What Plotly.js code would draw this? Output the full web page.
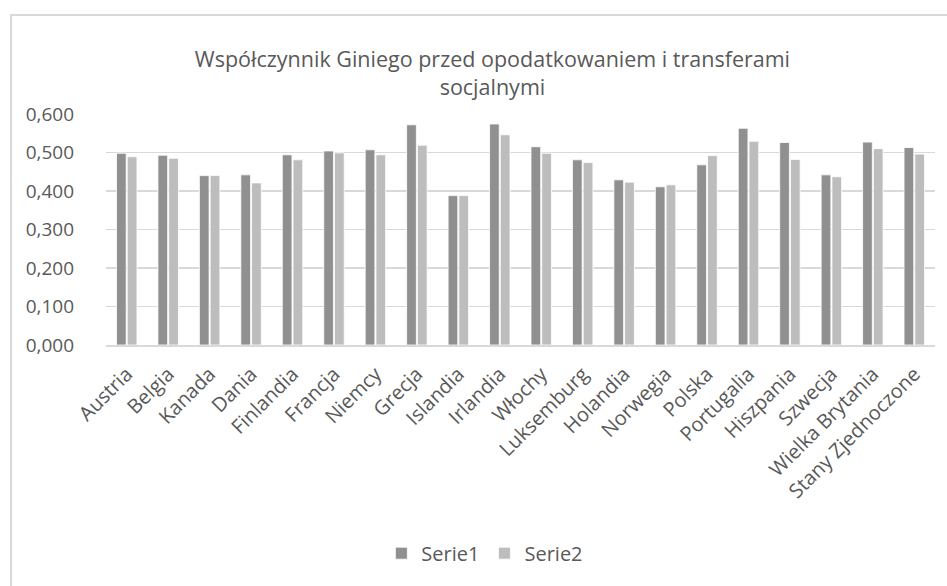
<!DOCTYPE html>
<html>
<head>
<meta charset="utf-8">
<script src="https://cdn.plot.ly/plotly-3.0.1.min.js"></script>
<style>
  html, body { margin: 0; padding: 0; background: #fff; overflow: hidden; }
  #frame { position: absolute; left: 10px; top: 14px; width: 960px; height: 600px;
           border-left: 2px solid #d9d9d9; border-top: 2px solid #d9d9d9; box-sizing: border-box; pointer-events: none; }
  #chart { position: absolute; left: 0; top: 0; width: 947px; height: 586px; }
</style>
</head>
<body>
<div id="chart"></div>
<div id="frame"></div>
<script>
const categories = ["Austria", "Belgia", "Kanada", "Dania", "Finlandia", "Francja", "Niemcy", "Grecja",
  "Islandia", "Irlandia", "Włochy", "Luksemburg", "Holandia", "Norwegia", "Polska", "Portugalia",
  "Hiszpania", "Szwecja", "Wielka Brytania", "Stany Zjednoczone"];
const serie1 = [0.498, 0.493, 0.440, 0.442, 0.494, 0.504, 0.507, 0.572, 0.388, 0.574,
  0.515, 0.481, 0.429, 0.411, 0.468, 0.563, 0.526, 0.442, 0.527, 0.513];
const serie2 = [0.489, 0.485, 0.440, 0.421, 0.481, 0.499, 0.494, 0.519, 0.388, 0.546,
  0.498, 0.474, 0.423, 0.416, 0.492, 0.529, 0.482, 0.437, 0.510, 0.496];
const seriesNames = ["Serie1", "Serie2"];
const yTicks = [0, 0.1, 0.2, 0.3, 0.4, 0.5, 0.6];

const FONT = "Open Sans, sans-serif";
const traces = [
  { type: "bar", name: seriesNames[0], x: categories, y: serie1,
    marker: { color: "#909090", line: { color: "#ffffff", width: 0.8 } } },
  { type: "bar", name: seriesNames[1], x: categories, y: serie2,
    marker: { color: "#bdbdbd", line: { color: "#ffffff", width: 0.8 } } }
];

const layout = {
  width: 947, height: 586,
  paper_bgcolor: "rgba(0,0,0,0)", plot_bgcolor: "rgba(0,0,0,0)",
  separators: ", ",
  margin: { l: 106, r: 12, t: 114, b: 241 },
  barmode: "group", bargap: 0.48, bargroupgap: 0.1,
  title: {
    text: "Współczynnik Giniego przed opodatkowaniem i transferami<br>socjalnymi",
    font: { family: FONT, size: 21.5, color: "#595959" },
    xref: "container", x: 0.52, xanchor: "center",
    yref: "container", y: 0.885, yanchor: "top"
  },
  xaxis: {
    type: "category", tickangle: -45, showgrid: false, zeroline: false,
    showline: true, linecolor: "#d9d9d9", linewidth: 1.5, ticks: "",
    ticklabelstandoff: 8,
    tickfont: { family: FONT, size: 20, color: "#595959" }
  },
  yaxis: {
    range: [0, 0.6], tickvals: yTicks, tickformat: ".3f",
    showgrid: true, gridcolor: "#d9d9d9", gridwidth: 1.3, zeroline: false,
    showline: false, ticks: "", ticklabelstandoff: 31,
    tickfont: { family: FONT, size: 19, color: "#595959" }
  },
  showlegend: true,
  legend: {
    orientation: "h", xref: "container", yref: "container",
    x: 0.512, xanchor: "center", y: 0.056, yanchor: "middle",
    font: { family: FONT, size: 20, color: "#595959" },
    itemwidth: 30, tracegroupgap: 0
  }
};

Plotly.newPlot("chart", traces, layout, { displayModeBar: false, staticPlot: true });
</script>
</body>
</html>
